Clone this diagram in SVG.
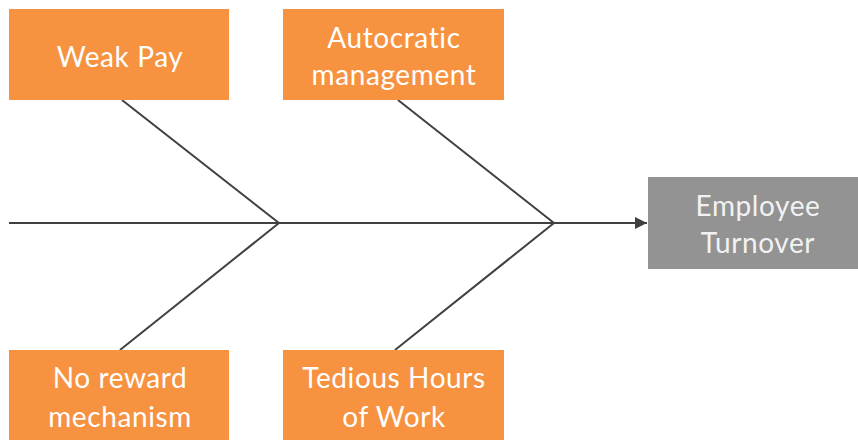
<svg xmlns="http://www.w3.org/2000/svg" width="858" height="440" viewBox="0 0 858 440">
<defs>
<style>
.cause rect{fill:#F79241}
.effect rect{fill:#939393}
text{font-family:Lato,"Liberation Sans",sans-serif;font-size:28px;font-weight:400;letter-spacing:0.6px;fill:#ffffff;text-anchor:middle}
.effect text{fill:#f2f2f2}
.bone{stroke:#404040;stroke-width:2;fill:none}
</style>
<marker id="arr" viewBox="0 0 10 10" refX="10" refY="5" markerWidth="6" markerHeight="6" orient="auto" markerUnits="strokeWidth">
<path d="M0,0 L10,5 L0,10 z" fill="#404040"/>
</marker>
</defs>
<rect width="858" height="440" fill="#ffffff"/>
<g id="connectors">
<line class="bone" x1="9" y1="223" x2="647" y2="223" marker-end="url(#arr)"/>
<line class="bone" x1="122" y1="100" x2="279" y2="223"/>
<line class="bone" x1="279" y1="223" x2="120" y2="350"/>
<line class="bone" x1="398" y1="100" x2="554" y2="223"/>
<line class="bone" x1="554" y1="223" x2="395" y2="350"/>
</g>
<g id="weak-pay" class="cause">
<rect x="9" y="9" width="220" height="91"/>
<text x="120" y="67">Weak Pay</text>
</g>
<g id="autocratic" class="cause">
<rect x="283" y="9" width="221" height="91"/>
<text x="394" y="48">Autocratic</text>
<text x="394" y="85">management</text>
</g>
<g id="no-reward" class="cause">
<rect x="9" y="350" width="220" height="92"/>
<text x="120" y="388">No reward</text>
<text x="120" y="427">mechanism</text>
</g>
<g id="tedious" class="cause">
<rect x="283" y="350" width="221" height="92"/>
<text x="394" y="388">Tedious Hours</text>
<text x="394" y="427">of Work</text>
</g>
<g id="turnover" class="effect">
<rect x="648" y="177" width="210" height="92"/>
<text x="758" y="216">Employee</text>
<text x="758" y="253">Turnover</text>
</g>
</svg>
